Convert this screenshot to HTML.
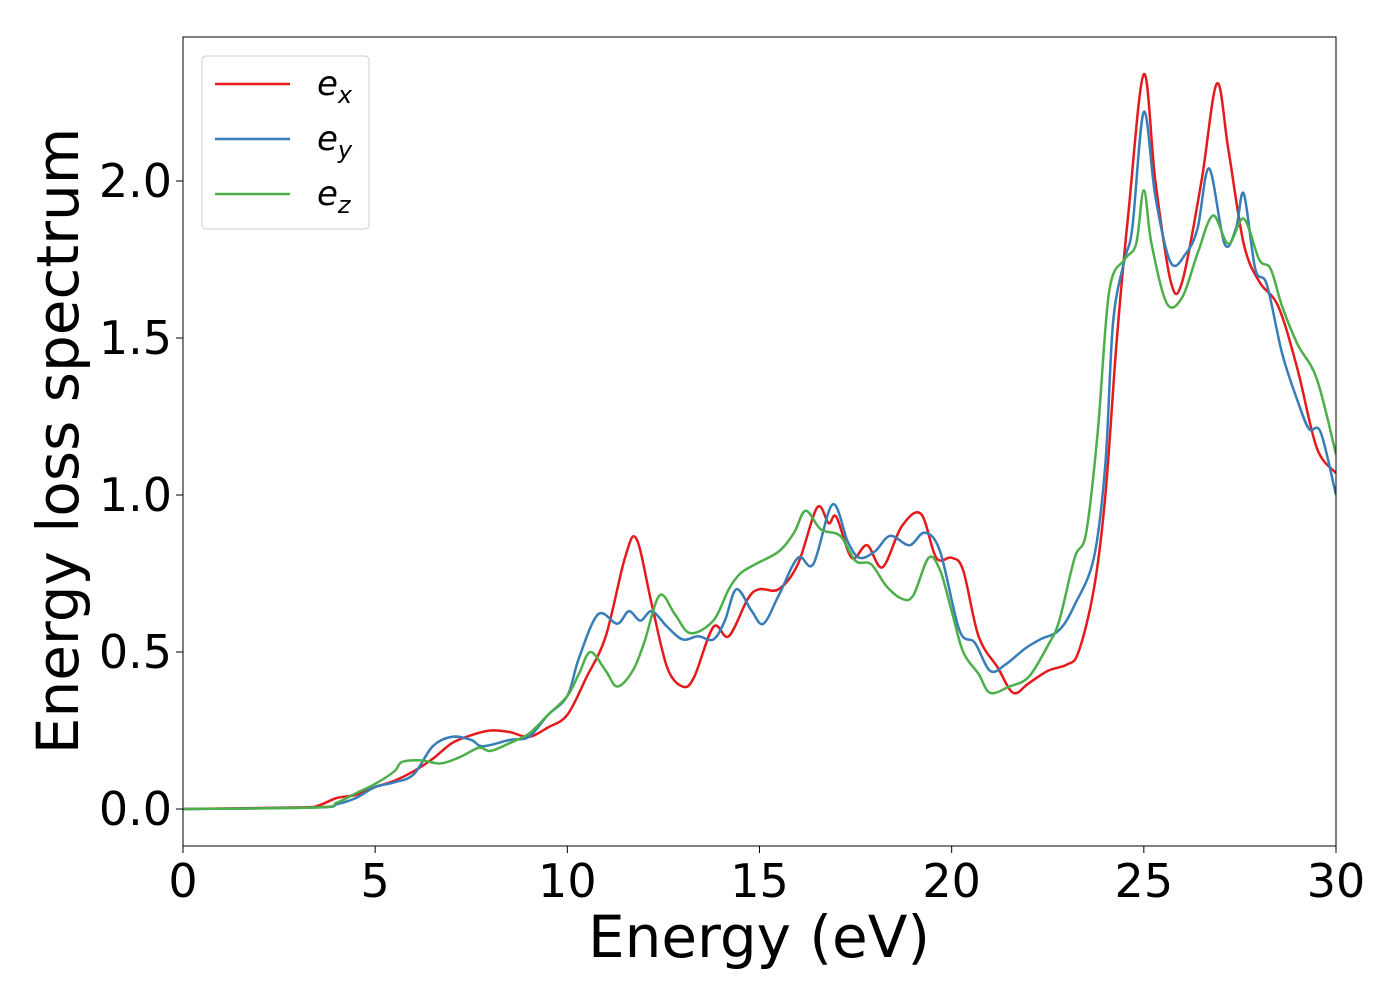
<!DOCTYPE html>
<html><head><meta charset="utf-8"><style>
body{margin:0;background:#fff;}
svg text{font-family:"DejaVu Sans","Liberation Sans",sans-serif;fill:#000;}
</style></head><body>
<svg width="1400" height="1000">
<g id="plot"></g>
</svg>
<script>
const exX=[0,3,3.5,4,4.5,5,5.5,6,6.5,7,7.5,8,8.5,9,9.5,10,10.5,11,11.5,11.8,12.2,12.6,13,13.3,13.8,14.2,14.7,15,15.5,16,16.5,16.8,17,17.4,17.8,18.2,18.7,19.2,19.6,20,20.3,20.7,21.2,21.6,22,22.5,23,23.3,23.7,24,24.3,24.6,25,25.3,25.7,26,26.5,26.9,27.2,27.6,28,28.5,29,29.5,30];
const exY=[0,0.005,0.01,0.035,0.045,0.07,0.09,0.12,0.16,0.21,0.235,0.25,0.245,0.23,0.26,0.3,0.42,0.55,0.8,0.86,0.65,0.45,0.39,0.42,0.58,0.55,0.67,0.7,0.7,0.78,0.96,0.91,0.93,0.8,0.84,0.77,0.9,0.94,0.8,0.8,0.76,0.55,0.45,0.37,0.4,0.44,0.46,0.5,0.7,1.0,1.5,1.9,2.34,2.0,1.68,1.68,2.0,2.31,2.1,1.8,1.68,1.6,1.4,1.15,1.07];
const eyX=[0,3.5,4,4.5,5,5.5,6,6.5,7,7.5,7.8,8.5,9,9.5,10,10.3,10.8,11.3,11.6,11.9,12.2,12.6,13,13.4,13.8,14.1,14.4,14.8,15.1,15.5,16,16.4,16.9,17.3,17.6,18,18.4,18.9,19.3,19.7,20.2,20.6,21,21.4,21.9,22.3,22.8,23.2,23.7,24,24.2,24.5,24.7,25,25.3,25.7,26.1,26.4,26.7,27.1,27.4,27.6,27.9,28.2,28.6,29,29.3,29.6,30];
const eyY=[0,0.005,0.015,0.035,0.07,0.085,0.11,0.2,0.23,0.22,0.2,0.22,0.23,0.3,0.36,0.48,0.62,0.59,0.63,0.6,0.63,0.58,0.54,0.55,0.54,0.6,0.7,0.63,0.59,0.68,0.8,0.78,0.97,0.85,0.8,0.82,0.87,0.84,0.88,0.82,0.57,0.53,0.44,0.46,0.51,0.54,0.57,0.65,0.8,1.1,1.55,1.75,1.85,2.22,1.95,1.74,1.77,1.85,2.04,1.8,1.85,1.96,1.72,1.67,1.45,1.3,1.21,1.2,1.0];
const ezX=[0,3.5,4,4.5,5,5.5,5.7,6.2,6.7,7.2,7.7,8,8.5,9,9.5,10,10.3,10.6,11,11.3,11.7,12,12.4,12.8,13.2,13.8,14.2,14.5,14.9,15.5,15.9,16.2,16.6,17.1,17.5,17.9,18.3,18.7,19,19.4,19.7,20,20.3,20.7,21,21.5,22,22.5,22.8,23.2,23.5,23.8,24.1,24.5,24.8,25,25.2,25.6,26,26.4,26.8,27.2,27.6,28,28.3,28.6,29,29.5,30];
const ezY=[0,0.005,0.02,0.05,0.08,0.12,0.15,0.155,0.145,0.165,0.195,0.185,0.21,0.24,0.3,0.36,0.43,0.5,0.44,0.39,0.44,0.53,0.68,0.62,0.56,0.6,0.7,0.75,0.78,0.82,0.88,0.95,0.89,0.87,0.79,0.78,0.71,0.67,0.68,0.8,0.76,0.63,0.5,0.43,0.37,0.39,0.42,0.52,0.6,0.8,0.88,1.2,1.65,1.75,1.8,1.97,1.8,1.61,1.63,1.77,1.89,1.8,1.88,1.75,1.72,1.6,1.48,1.37,1.13];
const xTicks=[0,5,10,15,20,25,30];
const yTicks=[0.0,0.5,1.0,1.5,2.0];
const L=183,R=1336,T=37,B=846;
const sx=v=>L+(v/30)*(R-L);
const sy=v=>809-v*314;
const NS='http://www.w3.org/2000/svg';
const g=document.getElementById('plot');
function mk(t,a,p){const e=document.createElementNS(NS,t);for(const k in a)e.setAttribute(k,a[k]);(p||g).appendChild(e);return e;}
function path(xs,ys){const p=xs.map((x,i)=>[sx(x),sy(ys[i])]);let d='M'+p[0][0]+','+p[0][1];
for(let i=0;i<p.length-1;i++){const p0=p[Math.max(0,i-1)],p1=p[i],p2=p[i+1],p3=p[Math.min(p.length-1,i+2)];
const c1=[p1[0]+(p2[0]-p0[0])/6,p1[1]+(p2[1]-p0[1])/6],c2=[p2[0]-(p3[0]-p1[0])/6,p2[1]-(p3[1]-p1[1])/6];
d+=' C'+c1[0]+','+c1[1]+' '+c2[0]+','+c2[1]+' '+p2[0]+','+p2[1];}return d;}
const clip=mk('clipPath',{id:'c'});mk('rect',{x:L,y:T,width:R-L,height:B-T},clip);
const series=[[exX,exY,'#e41a1c','series-ex'],[eyX,eyY,'#377eb8','series-ey'],[ezX,ezY,'#4daf4a','series-ez']];
series.forEach(s=>{const e=mk('path',{d:path(s[0],s[1]),fill:'none',stroke:s[2],'stroke-width':2.5,'clip-path':'url(#c)'});

});
const fr=mk('rect',{x:L,y:T,width:R-L,height:B-T,fill:'none',stroke:'#000','stroke-width':1});


xTicks.forEach(v=>{mk('line',{x1:sx(v),x2:sx(v),y1:B,y2:B+7,stroke:'#000'});
const t=mk('text',{x:sx(v),y:B+51,'text-anchor':'middle','font-size':46});t.textContent=v;

});
yTicks.forEach(v=>{mk('line',{x1:L-7,x2:L,y1:sy(v),y2:sy(v),stroke:'#000'});
const t=mk('text',{x:L-11,y:sy(v)+16,'text-anchor':'end','font-size':46});t.textContent=v.toFixed(1);

});
const xl=mk('text',{x:759,y:957,'text-anchor':'middle','font-size':58});xl.textContent='Energy (eV)';


const yl=mk('text',{x:78,y:441,'text-anchor':'middle','font-size':58,transform:'rotate(-90 78 441)'});yl.textContent='Energy loss spectrum';


const lg=mk('rect',{x:202,y:56,width:167,height:173,rx:4,fill:'#fff',stroke:'#ccc','stroke-width':1});


const labs=['x','y','z'];
series.forEach((s,i)=>{const y=84+i*55;mk('line',{x1:215,x2:290,y1:y,y2:y,stroke:s[2],'stroke-width':2.5});
const t=mk('text',{x:317,y:y+11,'font-size':34,'font-style':'italic'});t.innerHTML='e<tspan font-size="24" dy="8">'+labs[i]+'</tspan>';

});
</script>
</body></html>
